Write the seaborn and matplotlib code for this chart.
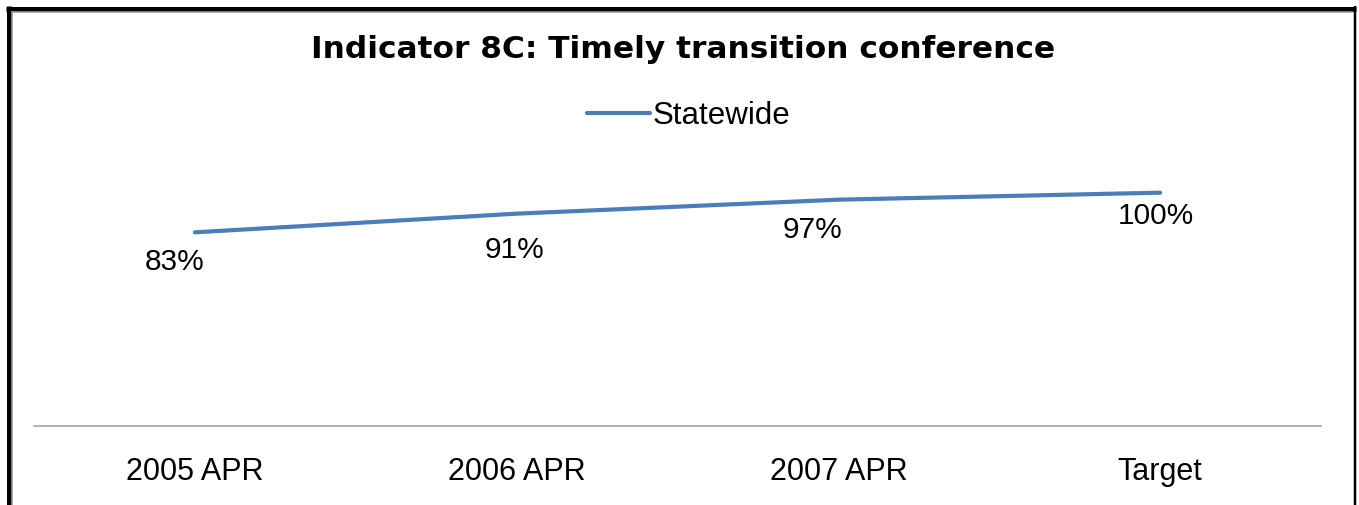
import matplotlib
matplotlib.use("Agg")
import matplotlib.pyplot as plt
import seaborn as sns
import pandas as pd
from matplotlib.lines import Line2D

categories = ["2005 APR", "2006 APR", "2007 APR", "Target"]
statewide = [0.83, 0.91, 0.97, 1.00]
value_labels = ["83%", "91%", "97%", "100%"]
# label offsets in pixels (dx, dy) relative to the point
label_offsets_px = [(-20, -30), (-2, -36), (-26, -30), (-4, -23)]

sns.set_theme(style="white")
plt.rcParams["font.family"] = ["Liberation Sans", "DejaVu Sans"]

W, H, DPI = 1359, 505, 100
fig = plt.figure(figsize=(W / DPI, H / DPI), dpi=DPI)
fig.patch.set_facecolor("white")

ax_left, ax_right = 34, 1321
ax_bottom, ax_top = 426, 146
ax = fig.add_axes([ax_left / W, (H - ax_bottom) / H, (ax_right - ax_left) / W, (ax_bottom - ax_top) / H])

df = pd.DataFrame({"cat": categories, "val": statewide, "series": "Statewide"})
df["pos"] = range(len(categories))
sns.lineplot(data=df, x="pos", y="val", ax=ax, color="#4A7EBB", linewidth=3.0,
             solid_capstyle="round", sort=False, legend=False)

ax.set_xlim(-0.5, len(categories) - 0.5)
ax.set_ylim(0, 1.2)
ax.set_xticks(range(len(categories)))
ax.set_xticklabels(categories, fontsize=22, color="black")
ax.set_yticks([])
ax.set_xlabel("")
ax.set_ylabel("")
ax.tick_params(axis="x", length=0, pad=22)
for s in ["left", "top", "right"]:
    ax.spines[s].set_visible(False)
ax.spines["bottom"].set_color("#A6A6A6")
ax.spines["bottom"].set_linewidth(1.2)

for i, (v, lab) in enumerate(zip(statewide, value_labels)):
    dx, dy = label_offsets_px[i]
    ax.annotate(lab, (i, v), xytext=(dx * 0.72, dy * 0.72), textcoords="offset points",
                ha="center", va="center", fontsize=21.5, color="black")

fig.text(683 / W, 1 - 49 / H, "Indicator 8C: Timely transition conference",
         ha="center", va="center", fontsize=22.5, fontweight="bold", color="black",
         family=["DejaVu Sans"])

handle = Line2D([0], [0], color="#4A7EBB", linewidth=3.0, solid_capstyle="round")
leg = fig.legend([handle], ["Statewide"], loc="center", bbox_to_anchor=(689 / W, 1 - 116 / H),
                 frameon=False, fontsize=22.5, handlelength=2.0, handletextpad=0.1)
for t in leg.get_texts():
    t.set_color("black")

# outer frame
def px_line(x0, y0, x1, y1, lw, color):
    fig.add_artist(Line2D([x0 / W, x1 / W], [1 - y0 / H, 1 - y1 / H], transform=fig.transFigure,
                          color=color, linewidth=lw, solid_capstyle="butt"))

px_line(8.5, 6, 8.5, H, 5 * 0.72, "black")
px_line(6, 8.5, 1356, 8.5, 5 * 0.72, "black")
px_line(12, 11, 12, H, 1.2, "#999999")
px_line(12, 11.5, 1353, 11.5, 1.2, "#999999")
px_line(1354.5, 6, 1354.5, H, 2.5 * 0.72, "black")

fig.savefig("out.png", dpi=DPI, facecolor="white")
